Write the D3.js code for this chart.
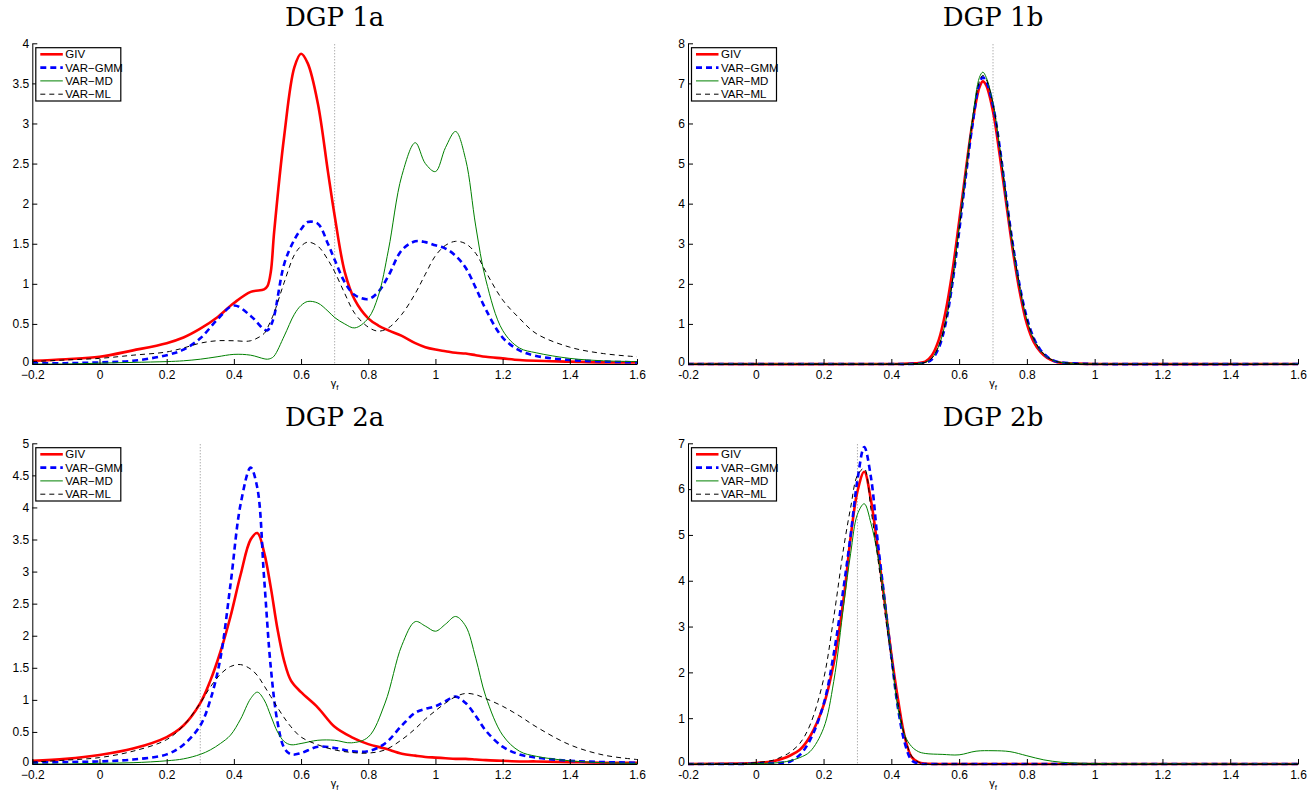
<!DOCTYPE html>
<html><head><meta charset="utf-8">
<script src="https://cdn.jsdelivr.net/npm/d3@7"></script>
<style>body{margin:0;background:#fff} svg{display:block}</style>
</head><body><svg id="c" width="1311" height="796"></svg>
<script>
// ---------- data ----------
const seriesNames = ["GIV", "VAR\u2212GMM", "VAR\u2212MD", "VAR\u2212ML"];
const titles = ["DGP 1a", "DGP 1b", "DGP 2a", "DGP 2b"];
const trueValues = [0.7, 0.7, 0.3, 0.3];
const xTickValues = [-0.2, 0, 0.2, 0.4, 0.6, 0.8, 1, 1.2, 1.4, 1.6];
const yTicks1a = [0, 0.5, 1, 1.5, 2, 2.5, 3, 3.5, 4];
const yTicks1b = [0, 1, 2, 3, 4, 5, 6, 7, 8];
const yTicks2a = [0, 0.5, 1, 1.5, 2, 2.5, 3, 3.5, 4, 4.5, 5];
const yTicks2b = [0, 1, 2, 3, 4, 5, 6, 7];

// DGP 1a
const grid1a = [-0.2,-0.1,0,0.1,0.2,0.25,0.3,0.35,0.4,0.45,0.49,0.5,0.51,0.52,0.55,0.58,0.6,0.62,0.65,0.68,0.7,0.73,0.76,0.8,0.83,0.86,0.9,0.94,0.97,1.0,1.03,1.06,1.09,1.12,1.15,1.2,1.25,1.3,1.4,1.5,1.6];
const giv1a = [0.04,0.06,0.09,0.17,0.26,0.33,0.44,0.58,0.76,0.9,0.93,0.97,1.15,1.65,2.85,3.7,3.87,3.75,3.25,2.4,1.85,1.15,0.8,0.57,0.48,0.42,0.35,0.26,0.21,0.18,0.16,0.14,0.13,0.11,0.09,0.07,0.05,0.04,0.03,0.02,0.02];
const gmm1a = [0.01,0.01,0.02,0.04,0.11,0.18,0.32,0.55,0.73,0.6,0.43,0.42,0.48,0.6,1.25,1.55,1.68,1.77,1.75,1.5,1.3,1.02,0.86,0.81,0.9,1.1,1.42,1.53,1.52,1.48,1.44,1.35,1.2,0.95,0.68,0.33,0.17,0.1,0.05,0.03,0.02];
const md1a  = [0.0,0.0,0.01,0.02,0.03,0.04,0.06,0.09,0.12,0.11,0.065,0.06,0.07,0.1,0.35,0.62,0.73,0.78,0.76,0.66,0.58,0.5,0.45,0.57,0.85,1.42,2.35,2.76,2.5,2.4,2.7,2.9,2.55,1.72,1.05,0.42,0.2,0.14,0.07,0.04,0.03];
const ml1a  = [0.03,0.05,0.07,0.11,0.15,0.2,0.26,0.29,0.29,0.29,0.38,0.45,0.54,0.64,1.02,1.36,1.47,1.52,1.47,1.3,1.15,0.88,0.63,0.46,0.41,0.45,0.62,0.88,1.12,1.35,1.48,1.53,1.5,1.38,1.15,0.8,0.57,0.38,0.21,0.13,0.09];

// DGP 1b
const grid1b = [-0.2,0.4,0.45,0.5,0.52,0.54,0.56,0.58,0.6,0.62,0.64,0.66,0.67,0.68,0.7,0.72,0.74,0.76,0.78,0.8,0.82,0.84,0.86,0.88,0.9,0.95,1.0,1.6];
const giv1b = [0,0,0.01,0.06,0.22,0.6,1.3,2.3,3.55,4.85,6.05,6.9,7.05,6.95,6.3,5.2,3.95,2.75,1.75,1.0,0.55,0.3,0.15,0.07,0.03,0.01,0,0];
const gmm1b = [0,0,0,0.03,0.12,0.4,1.0,2.0,3.3,4.7,6.0,7.0,7.15,7.05,6.45,5.4,4.1,2.9,1.9,1.15,0.65,0.35,0.18,0.08,0.04,0.01,0,0];
const md1b  = [0,0,0,0.04,0.15,0.45,1.05,2.05,3.4,4.8,6.15,7.15,7.28,7.15,6.5,5.4,4.05,2.85,1.85,1.1,0.62,0.33,0.17,0.08,0.04,0.01,0,0];
const ml1b  = [0,0,0,0.04,0.15,0.45,1.05,2.05,3.35,4.75,6.1,7.05,7.2,7.1,6.5,5.4,4.1,2.9,1.9,1.12,0.64,0.35,0.18,0.08,0.04,0.01,0,0];

// DGP 2a
const grid2a = [-0.2,-0.1,0,0.1,0.2,0.25,0.3,0.33,0.36,0.39,0.42,0.45,0.47,0.49,0.51,0.53,0.55,0.57,0.6,0.65,0.7,0.75,0.8,0.85,0.9,0.94,0.97,1.0,1.03,1.06,1.09,1.12,1.15,1.2,1.25,1.3,1.4,1.5,1.6];
const giv2a = [0.05,0.08,0.14,0.24,0.42,0.6,0.95,1.3,1.75,2.3,2.95,3.5,3.6,3.3,2.75,2.1,1.6,1.3,1.12,0.88,0.58,0.42,0.31,0.24,0.16,0.13,0.11,0.1,0.09,0.08,0.08,0.07,0.06,0.05,0.04,0.04,0.03,0.02,0.02];
const gmm2a = [0.02,0.03,0.04,0.07,0.15,0.3,0.6,1.0,1.65,2.8,4.05,4.62,4.3,2.9,1.5,0.65,0.25,0.15,0.17,0.27,0.25,0.2,0.2,0.32,0.6,0.8,0.86,0.9,0.98,1.05,0.95,0.75,0.52,0.27,0.15,0.1,0.05,0.03,0.02];
const md2a  = [0,0,0.01,0.02,0.05,0.08,0.15,0.22,0.32,0.45,0.7,1.02,1.12,1.0,0.75,0.5,0.35,0.3,0.32,0.37,0.37,0.33,0.42,0.95,1.85,2.22,2.15,2.07,2.18,2.3,2.15,1.65,1.05,0.45,0.2,0.12,0.05,0.02,0.01];
const ml2a  = [0.03,0.06,0.1,0.2,0.38,0.6,0.95,1.2,1.4,1.52,1.55,1.48,1.38,1.22,1.05,0.88,0.72,0.58,0.42,0.3,0.22,0.18,0.17,0.22,0.38,0.55,0.7,0.83,0.95,1.05,1.1,1.08,1.02,0.9,0.75,0.58,0.3,0.14,0.07];

// DGP 2b
const grid2b = [-0.2,-0.05,0,0.05,0.08,0.1,0.13,0.16,0.2,0.23,0.26,0.28,0.3,0.32,0.34,0.36,0.38,0.4,0.42,0.44,0.46,0.48,0.5,0.55,0.6,0.65,0.7,0.75,0.8,0.85,0.9,0.95,1.0,1.6];
const giv2b = [0,0.01,0.02,0.06,0.12,0.18,0.31,0.6,1.28,2.2,3.65,4.95,5.95,6.38,5.75,4.7,3.55,2.4,1.4,0.58,0.15,0.04,0.01,0,0,0,0,0,0,0,0,0,0,0];
const gmm2b = [0,0,0.01,0.02,0.03,0.05,0.2,0.52,1.3,2.4,3.9,5.0,6.2,6.92,6.25,4.85,3.6,2.35,1.2,0.45,0.08,0.01,0,0,0,0,0,0,0,0,0,0,0,0];
const md2b  = [0,0,0.01,0.02,0.04,0.07,0.14,0.27,0.78,1.8,3.5,4.6,5.45,5.68,5.25,4.55,3.6,2.35,1.2,0.62,0.38,0.27,0.23,0.21,0.2,0.28,0.29,0.27,0.18,0.09,0.04,0.02,0.01,0];
const ml2b  = [0,0.01,0.03,0.08,0.17,0.25,0.45,0.85,1.85,3.2,4.75,5.6,6.3,6.45,5.55,4.5,3.35,2.3,1.3,0.6,0.17,0.04,0,0,0,0,0,0,0,0,0,0,0,0];

// ---------- layout ----------
const panels = [
  {title: titles[0], grid: grid1a, series: [giv1a, gmm1a, md1a, ml1a], yTicks: yTicks1a, truth: trueValues[0], box: [32.3, 637, 43.3, 364], unicodeMinus: true},
  {title: titles[1], grid: grid1b, series: [giv1b, gmm1b, md1b, ml1b], yTicks: yTicks1b, truth: trueValues[1], box: [688, 1298, 43.3, 364], unicodeMinus: false},
  {title: titles[2], grid: grid2a, series: [giv2a, gmm2a, md2a, ml2a], yTicks: yTicks2a, truth: trueValues[2], box: [32.3, 637, 443.3, 764], unicodeMinus: true},
  {title: titles[3], grid: grid2b, series: [giv2b, gmm2b, md2b, ml2b], yTicks: yTicks2b, truth: trueValues[3], box: [688, 1298, 443.3, 764], unicodeMinus: false}
];
const styles = [
  {color: "#ff0000", width: 2.6, dash: null},
  {color: "#0000ff", width: 2.6, dash: "6,4"},
  {color: "#008000", width: 1, dash: null},
  {color: "#000000", width: 1, dash: "5,4"}
];
const tickFont = "Liberation Sans, Arial, Helvetica, sans-serif";

const svg = d3.select("#c");

panels.forEach(p => {
  const [x0, x1, y0, y1] = p.box;
  const x = d3.scaleLinear().domain([-0.2, 1.6]).range([x0, x1]);
  const y = d3.scaleLinear().domain([0, d3.max(p.yTicks)]).range([y1, y0]);
  const g = svg.append("g");

  const fmt = d => {
    const s = String(Math.round(d * 10) / 10);
    return p.unicodeMinus ? s.replace("-", "\u2212") : s;
  };

  // true value line
  g.append("line")
    .attr("x1", x(p.truth)).attr("x2", x(p.truth))
    .attr("y1", y.range()[1] + 1).attr("y2", y1)
    .attr("stroke", "#8c8c8c").attr("stroke-width", 1)
    .attr("stroke-dasharray", "1,2");

  // curves
  const line = d3.line().x(d => x(d[0])).y(d => Math.min(y(d[1]), y1))
    .curve(d3.curveCatmullRom.alpha(0.5));
  p.series.forEach((vals, i) => {
    const pts = p.grid.map((gx, k) => [gx, vals[k]]);
    const st = styles[i];
    g.append("path").datum(pts)
      .attr("d", line)
      .attr("fill", "none")
      .attr("stroke", st.color)
      .attr("stroke-width", st.width)
      .attr("stroke-linejoin", "round")
      .attr("stroke-dasharray", st.dash);
  });

  // axes
  const xAxis = d3.axisBottom(x).tickValues(xTickValues).tickFormat(fmt)
    .tickSizeInner(-5).tickSizeOuter(0).tickPadding(6);
  const gx = g.append("g").attr("transform", `translate(0,${y1})`).call(xAxis);
  const yAxis = d3.axisLeft(y).tickValues(p.yTicks).tickFormat(fmt)
    .tickSizeInner(-5).tickSizeOuter(0).tickPadding(3);
  const gy = g.append("g").attr("transform", `translate(${x0},0)`).call(yAxis);
  [gx, gy].forEach(a => {
    a.selectAll("text").attr("font-family", tickFont).attr("font-size", 12).attr("fill", "#000");
    a.selectAll("line").attr("stroke", "#000");
    a.select(".domain").attr("stroke", "#000");
  });
  // keep the zero label of the y axis clear of the x labels
  gy.selectAll(".tick text").filter(d => d === 0).attr("dy", "0.1em");

  // x label
  const xl = g.append("text")
    .attr("x", (x0 + x1) / 2).attr("y", y1 + 23)
    .attr("text-anchor", "middle")
    .attr("font-family", tickFont).attr("font-size", 11);
  xl.append("tspan").text("\u03b3");
  xl.append("tspan").attr("font-size", 8).attr("dy", 3).text("f");

  // title
  g.append("text")
    .attr("x", (x0 + x1) / 2).attr("y", y0 - 17)
    .attr("text-anchor", "middle")
    .attr("font-family", "DejaVu Serif, Liberation Serif, serif")
    .attr("font-size", 26)
    .text(p.title);

  // legend
  const lg = g.append("g").attr("transform", `translate(${x0 + 3.5},${y0 + 4.4})`);
  lg.append("rect").attr("x", 0).attr("y", 0).attr("width", 85).attr("height", 53.3)
    .attr("fill", "#fff").attr("stroke", "#000").attr("stroke-width", 1.2);
  seriesNames.forEach((name, i) => {
    const ry = 6.6 + i * 13.3;
    const st = styles[i];
    lg.append("line").attr("x1", 4.5).attr("x2", 27).attr("y1", ry).attr("y2", ry)
      .attr("stroke", st.color).attr("stroke-width", st.width)
      .attr("stroke-dasharray", st.dash);
    lg.append("text").attr("x", 29.5).attr("y", ry + 4)
      .attr("font-family", tickFont).attr("font-size", 11.5)
      .text(name);
  });
});
</script>
</body></html>
